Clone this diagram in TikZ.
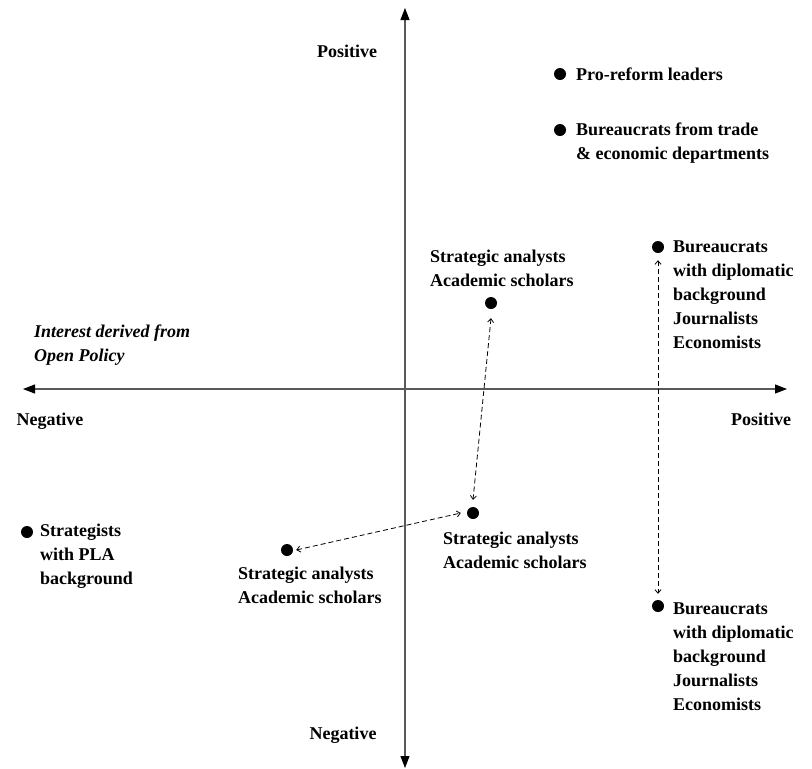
\documentclass[tikz,border=0pt]{standalone}
\usepackage{fontspec}
\setmainfont{Liberation Serif}
\usetikzlibrary{arrows.meta}
\newcommand{\fl}{\rule{0pt}{14pt}}
\tikzset{
  dot/.style={circle,fill=black,inner sep=0pt,minimum size=12pt},
  lbl/.style={font=\fontsize{18}{24}\selectfont\bfseries,align=left,inner sep=0pt,anchor=north west},
  axlbl/.style={font=\fontsize{18}{24}\selectfont\bfseries,inner sep=0pt,anchor=base},
  axis/.style={draw=black!65,line width=1.1pt,-{Triangle[length=12pt,width=9pt,fill=black,color=black]}},
  link/.style={line width=0.8pt,{Straight Barb[length=3.5pt,width=6pt]}-{Straight Barb[length=3.5pt,width=6pt]},dash pattern=on 5pt off 3pt}
}
\begin{document}
\begin{tikzpicture}[x=1pt,y=-1pt]
\useasboundingbox (0,0) rectangle (812,769);
\coordinate (O) at (405,389);
\coordinate (T) at (405,8);
\coordinate (B) at (405,768);
\coordinate (L) at (23,389);
\coordinate (R) at (787,389);
\draw[axis] (O) -- (T);
\draw[axis] (O) -- (B);
\draw[axis] (O) -- (L);
\draw[axis] (O) -- (R);

\node[axlbl] (pt) at (347,57) {Positive};
\node[axlbl] (nl) at (50,425) {Negative};
\node[axlbl] (pr) at (761,425) {Positive};
\node[axlbl] (nb) at (343,739) {Negative};
\node[lbl,font=\fontsize{18}{24}\selectfont\bfseries\itshape] (int) at (34,323) {\fl Interest derived from\\Open Policy};

\node[dot] (d1) at (560,74) {};
\node[lbl] (t1) at (576,66) {\fl Pro-reform leaders};
\node[dot] (d2) at (560,130) {};
\node[lbl] (t2) at (576,121) {\fl Bureaucrats from trade\\\& economic departments};
\node[dot] (d3) at (658,247) {};
\node[lbl] (t3) at (673,238) {\fl Bureaucrats\\with diplomatic\\background\\Journalists\\Economists};
\node[dot] (d4) at (491,303) {};
\node[lbl] (t4) at (430,248) {\fl Strategic analysts\\Academic scholars};
\node[dot] (d5) at (473,513) {};
\node[lbl] (t5) at (443,530) {\fl Strategic analysts\\Academic scholars};
\node[dot] (d6) at (287,550) {};
\node[lbl] (t6) at (238,565) {\fl Strategic analysts\\Academic scholars};
\node[dot] (d7) at (27,532) {};
\node[lbl] (t7) at (40,522) {\fl Strategists\\with PLA\\background};
\node[dot] (d8) at (658,606) {};
\node[lbl] (t8) at (673,600) {\fl Bureaucrats\\with diplomatic\\background\\Journalists\\Economists};

\draw[link] ([yshift=-9pt]d4.south) -- ([yshift=7pt]d5.north);
\draw[link] ([xshift=3pt]d6.east) -- ([xshift=-6pt]d5.west);
\draw[link] ([yshift=-7pt]d3.south) -- ([yshift=6pt]d8.north);
\end{tikzpicture}
\end{document}
